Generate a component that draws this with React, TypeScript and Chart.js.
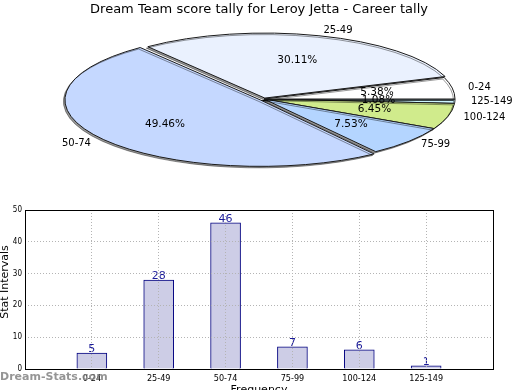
import React, { useEffect, useRef } from 'react';
import { Chart, registerables } from 'chart.js';

Chart.register(...registerables);

const chartTitle = 'Dream Team score tally for Leroy Jetta - Career tally';
const categories = ['0-24', '25-49', '50-74', '75-99', '100-124', '125-149'];
const counts = [5, 28, 46, 7, 6, 1];
const sliceColors = ['#ffffff', '#eaf1fe', '#c5d8ff', '#b4d5ff', '#d0eb8c', '#ccf5ff'];
const yTicks = [0, 10, 20, 30, 40, 50];
const xAxisTitle = 'Frequency';
const yAxisTitle = 'Stat Intervals';
const watermark = 'Dream-Stats.com';

const FONT = "'DejaVu Sans', sans-serif";
const COND = "'DejaVu Sans Condensed', 'DejaVu Sans', sans-serif";

// pie geometry/style
const K = 0.34; // vertical squash of the 3D-looking pie
const R = 191;
const explodePx = [0, 3, 9, 0, 0, 0]; // per category, in px

export default function App() {
  const pieRef = useRef<HTMLCanvasElement>(null);
  const barRef = useRef<HTMLCanvasElement>(null);

  useEffect(() => {
    const total = counts.reduce((a, b) => a + b, 0);
    // drawn clockwise from east in reversed order => counter-clockwise category order
    const pieLabels = [...categories].reverse();
    const pieData = [...counts].reverse();
    const pieColors = [...sliceColors].reverse();
    const pieExplode = [...explodePx].reverse();
    const pieOffsets = pieData.map((v, i) => {
      const c = (v / total) * Math.PI * 2;
      const fix = 1 - Math.sin(Math.min(Math.PI, c));
      return (4 * pieExplode[i]) / (1 + fix);
    });

    const ellipsePlugin = {
      id: 'ellipse',
      beforeDatasetsDraw(chart: any) {
        const ctx = chart.ctx as CanvasRenderingContext2D;
        const arc = chart.getDatasetMeta(0).data[0] as any;
        const cx = arc.x, cy = arc.y;
        ctx.save();
        const base = ctx.getTransform();
        ctx.translate(cx, cy);
        ctx.scale(1, K);
        ctx.translate(-cx, -cy);
        ctx.shadowColor = 'rgba(0,0,0,0.4)';
        ctx.shadowOffsetX = -1.5;
        ctx.shadowOffsetY = 1.5;
        ctx.shadowBlur = 0;
        const orig = CanvasRenderingContext2D.prototype.stroke;
        (ctx as any).stroke = function (...args: any[]) {
          this.save();
          this.setTransform(base);
          orig.apply(this, args as any);
          this.restore();
        };
      },
      afterDatasetsDraw(chart: any) {
        const ctx = chart.ctx as CanvasRenderingContext2D;
        delete (ctx as any).stroke;
        ctx.restore();
        const meta = chart.getDatasetMeta(0);
        ctx.save();
        ctx.fillStyle = '#000';
        meta.data.forEach((arc: any, i: number) => {
          const mid = (arc.startAngle + arc.endAngle) / 2;
          const d = pieExplode[i];
          const cx = arc.x, cy = arc.y;
          const cos = Math.cos(mid), sin = Math.sin(mid);
          const rIn = R * 0.6 + d;
          ctx.font = `10.5px ${FONT}`;
          ctx.textAlign = 'center';
          ctx.textBaseline = 'middle';
          const pct = ((pieData[i] / total) * 100).toFixed(2) + '%';
          ctx.fillText(pct, cx + cos * rIn, cy + sin * rIn * K);
          const rOut = R + 16 + d;
          ctx.font = `10px ${FONT}`;
          ctx.textAlign = cos >= 0 ? 'left' : 'right';
          ctx.fillText(pieLabels[i], cx + cos * rOut, cy + sin * rOut * K);
        });
        ctx.restore();
      },
      afterDraw(chart: any) {
        const ctx = chart.ctx as CanvasRenderingContext2D;
        ctx.save();
        ctx.font = `13px ${FONT}`;
        ctx.fillStyle = '#000';
        ctx.textAlign = 'center';
        ctx.textBaseline = 'middle';
        ctx.fillText(chartTitle, 259, 10);
        ctx.restore();
      },
    };

    const pie = new Chart(pieRef.current!, {
      type: 'pie',
      data: {
        labels: pieLabels,
        datasets: [
          {
            data: pieData,
            backgroundColor: pieColors,
            borderColor: '#1a1a1a',
            borderWidth: 1,
            offset: pieOffsets,
            radius: R,
            clip: false as any,
          } as any,
        ],
      },
      options: {
        animation: false,
        responsive: false,
        events: [],
        rotation: 90,
        layout: { padding: { left: 8, right: 0, top: 0, bottom: 2 } },
        plugins: { legend: { display: false }, tooltip: { enabled: false }, title: { display: false } },
      },
      plugins: [ellipsePlugin],
    });

    const barPlugin = {
      id: 'barDecor',
      afterDatasetsDraw(chart: any) {
        const ctx = chart.ctx as CanvasRenderingContext2D;
        const meta = chart.getDatasetMeta(0);
        const data = chart.data.datasets[0].data;
        ctx.save();
        ctx.font = `11px ${FONT}`;
        ctx.fillStyle = '#1a1a99';
        ctx.textAlign = 'center';
        ctx.textBaseline = 'bottom';
        meta.data.forEach((bar: any, i: number) => {
          const v = data[i];
          if (v == null) return;
          ctx.fillText(String(v), bar.x, bar.y + 2);
        });
        ctx.restore();
      },
      afterDraw(chart: any) {
        const ctx = chart.ctx as CanvasRenderingContext2D;
        const a = chart.chartArea;
        ctx.save();
        ctx.strokeStyle = '#000';
        ctx.lineWidth = 1;
        ctx.strokeRect(Math.round(a.left) + 0.5, Math.round(a.top) + 0.5, Math.round(a.right - a.left), Math.round(a.bottom - a.top));
        ctx.fillStyle = '#000';
        ctx.font = `11px ${FONT}`;
        ctx.textAlign = 'center';
        ctx.textBaseline = 'middle';
        ctx.fillText(xAxisTitle, (a.left + a.right) / 2, 190);
        ctx.save();
        ctx.translate(5.5, 82);
        ctx.rotate(-Math.PI / 2);
        ctx.fillText(yAxisTitle, 0, 0);
        ctx.restore();
        ctx.font = `bold 11px ${FONT}`;
        ctx.fillStyle = 'rgba(130,130,130,0.85)';
        ctx.textAlign = 'left';
        ctx.fillText(watermark, 0, 177.5);
        ctx.restore();
      },
    };

    const bar = new Chart(barRef.current!, {
      type: 'bar',
      data: {
        labels: ['', ...categories, ''],
        datasets: [
          {
            data: [null, ...counts, null],
            backgroundColor: '#cdcde6',
            borderColor: '#000080',
            borderWidth: 1,
            barThickness: 30,
          } as any,
        ],
      },
      options: {
        animation: false,
        responsive: false,
        events: [],
        layout: { padding: { top: 10, right: 27, left: 0, bottom: 0 } },
        plugins: { legend: { display: false }, tooltip: { enabled: false } },
        scales: {
          x: {
            offset: false,
            grid: { offset: false, color: '#b4b4b4', drawTicks: false, z: 1 } as any,
            border: { display: false, dash: [1, 2] },
            ticks: { autoSkip: false, maxRotation: 0, minRotation: 0, padding: 4, color: '#000', font: { family: COND, size: 9 } },
            afterFit: (s: any) => { s.height = 21; },
          },
          y: {
            min: 0,
            max: 50,
            grid: { color: '#b4b4b4', drawTicks: false, z: 1 } as any,
            border: { display: false, dash: [1, 2] },
            ticks: { padding: 3, color: '#000', font: { family: COND, size: 8 } },
            afterBuildTicks: (s: any) => { s.ticks = yTicks.map((v) => ({ value: v })); },
            afterFit: (s: any) => { s.width = 25; },
          },
        },
      },
      plugins: [barPlugin],
    });

    return () => {
      pie.destroy();
      bar.destroy();
    };
  }, []);

  return (
    <div style={{ position: 'fixed', left: 0, top: 0, width: 520, height: 390, overflow: 'hidden', background: '#fff' }}>
      <canvas ref={pieRef} width={520} height={200} style={{ position: 'absolute', left: 0, top: 0, display: 'block' }} />
      <canvas ref={barRef} width={520} height={190} style={{ position: 'absolute', left: 0, top: 200, display: 'block' }} />
    </div>
  );
}
